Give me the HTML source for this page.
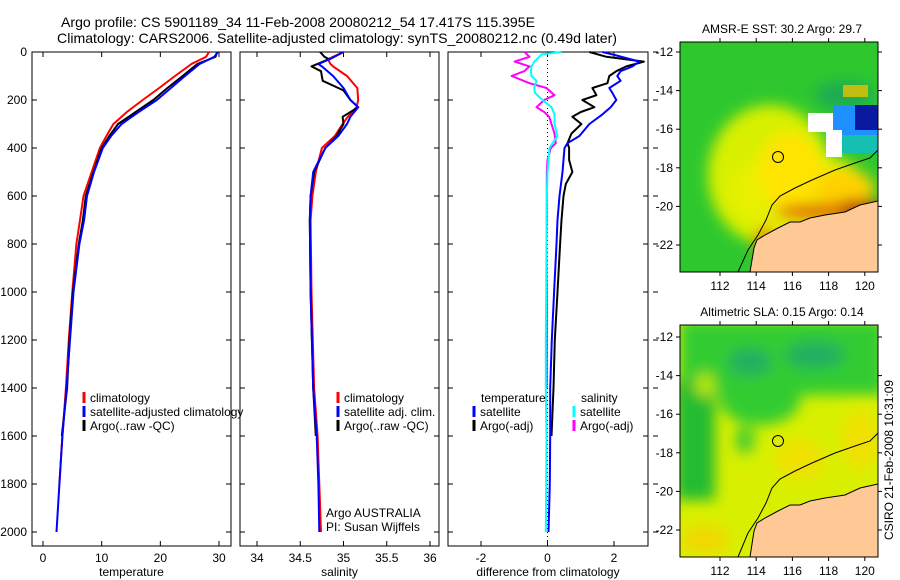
<!DOCTYPE html>
<html><head><meta charset="utf-8"><style>
body{margin:0;background:#fff;}
svg{display:block;font-family:"Liberation Sans",sans-serif;}
</style></head><body>
<svg id="fig" width="900" height="580" xmlns="http://www.w3.org/2000/svg">
<defs>
<filter id="bl" x="-20%" y="-20%" width="140%" height="140%"><feGaussianBlur stdDeviation="7"/></filter>
<clipPath id="c1"><rect x="680" y="42" width="198" height="230"/></clipPath>
<clipPath id="c2"><rect x="680" y="325" width="198" height="232"/></clipPath>
</defs>
<text x="61" y="27" font-size="14" textLength="474" lengthAdjust="spacingAndGlyphs">Argo profile: CS 5901189_34 11-Feb-2008 20080212_54 17.417S 115.395E</text>
<text x="57" y="43" font-size="14" textLength="560" lengthAdjust="spacingAndGlyphs">Climatology: CARS2006. Satellite-adjusted climatology: synTS_20080212.nc (0.49d later)</text>

<!-- SST map -->
<g clip-path="url(#c1)">
<rect x="680" y="42" width="198" height="230" fill="#2ec82e"/>
<g filter="url(#bl)">
<ellipse cx="770" cy="175" rx="62" ry="70" fill="#d8f000"/>
<ellipse cx="800" cy="192" rx="70" ry="40" fill="#e8f000"/>
<ellipse cx="790" cy="170" rx="32" ry="38" fill="#ffe400"/>
<ellipse cx="845" cy="188" rx="30" ry="18" fill="#ffd000"/>
<ellipse cx="825" cy="212" rx="50" ry="9" fill="#e07000"/>
<ellipse cx="860" cy="207" rx="22" ry="7" fill="#b00000"/>
<ellipse cx="765" cy="242" rx="10" ry="15" fill="#e08000"/>
<ellipse cx="845" cy="95" rx="30" ry="14" fill="#1aaa55"/>
</g>
<rect x="843" y="85" width="25" height="12" fill="#e8c000" opacity="0.8"/>
<rect x="833" y="105" width="45" height="45" fill="#1e90ff"/>
<rect x="855" y="105" width="23" height="25" fill="#0a1aa0"/>
<rect x="840" y="135" width="38" height="18" fill="#16c0b0"/>
<path d="M808,113 L833,113 L833,130 L842,130 L842,157 L826,157 L826,132 L808,132Z" fill="#fff"/>
<path d="M878,201 L860,205 L845,212 L825,215 L810,218 L800,222 L790,222 L778,228 L765,235 L757,240 L754,248 L750,272 L878,272Z" fill="#fec994"/>
<path d="M878,150 L870,158 L855,163 L835,170 L812,180 L795,188 L780,196 L772,205 L766,220 L758,235 L748,250 L738,272" fill="none" stroke="#000" stroke-width="1"/>
<path d="M878,201 L860,205 L845,212 L825,215 L810,218 L800,222 L790,222 L778,228 L765,235 L757,240 L754,248 L750,272" fill="none" stroke="#000" stroke-width="1"/>
<circle cx="778" cy="157" r="5.5" fill="none" stroke="#000" stroke-width="1"/>
</g>
<text x="782" y="33" font-size="12" text-anchor="middle">AMSR-E SST: 30.2 Argo: 29.7</text>

<!-- SLA map -->
<g clip-path="url(#c2)">
<rect x="680" y="325" width="198" height="232" fill="#d8f000"/>
<g filter="url(#bl)">
<rect x="680" y="320" width="205" height="75" fill="#33cc33"/>
<ellipse cx="760" cy="400" rx="40" ry="25" fill="#33cc33"/>
<rect x="675" y="380" width="40" height="120" fill="#22bb33"/>
<ellipse cx="815" cy="355" rx="30" ry="14" fill="#20b060"/>
<ellipse cx="750" cy="362" rx="22" ry="14" fill="#20b060"/>
<ellipse cx="705" cy="385" rx="10" ry="12" fill="#b8e800"/>
<ellipse cx="800" cy="460" rx="25" ry="20" fill="#f0e000"/>
<ellipse cx="705" cy="540" rx="25" ry="15" fill="#f0d800"/>
<ellipse cx="745" cy="440" rx="10" ry="14" fill="#44cc33"/>
<ellipse cx="860" cy="440" rx="18" ry="30" fill="#f0e000"/>
</g>
<path d="M878,484 L860,488 L845,495 L825,498 L810,501 L800,505 L790,505 L778,511 L765,518 L757,523 L754,531 L750,557 L878,557Z" fill="#fec994"/>
<path d="M878,433 L870,441 L855,446 L835,453 L812,463 L795,471 L780,479 L772,488 L766,503 L758,518 L748,533 L738,557" fill="none" stroke="#000" stroke-width="1"/>
<path d="M878,484 L860,488 L845,495 L825,498 L810,501 L800,505 L790,505 L778,511 L765,518 L757,523 L754,531 L750,557" fill="none" stroke="#000" stroke-width="1"/>
<circle cx="778" cy="441" r="5.5" fill="none" stroke="#000" stroke-width="1"/>
</g>
<text x="782" y="316" font-size="12" text-anchor="middle">Altimetric SLA: 0.15 Argo: 0.14</text>
<text transform="translate(893,460) rotate(-90)" font-size="12" text-anchor="middle">CSIRO 21-Feb-2008 10:31:09</text>

<g id="plots"></g>
</svg>
<script>
// ---- data ----
const tDepth   = [0,20,50,100,150,200,250,300,350,400,500,600,700,800,1000,1200,1400,1600,1800,2000];
const tClim    = [28.3,27.8,25.3,22.5,19.8,17.0,14.3,12.0,10.8,9.7,8.3,6.9,6.3,5.7,5.0,4.4,3.9,3.3,2.8,2.5];
const tSat     = [29.8,29.2,26.7,24.2,21.8,19.4,16.3,13.4,11.6,10.2,8.7,7.5,7.0,6.2,5.2,4.6,4.0,3.3,2.8,2.3];
const tArgoDepth = [0,20,50,100,150,200,250,300,350,400,500,600,700,800,1000,1200,1400,1600];
const tArgo    = [29.7,29.4,26.3,23.8,21.2,18.8,15.8,12.8,11.3,10.0,8.6,7.3,6.8,6.1,5.1,4.5,4.1,3.2];
const sDepth   = [0,30,50,60,100,150,200,230,270,300,350,400,500,600,700,1000,1400,1600,1800,2000];
const sClim    = [35.0,34.82,34.85,34.88,35.04,35.16,35.17,35.15,35.05,34.99,34.9,34.75,34.68,34.64,34.62,34.63,34.66,34.7,34.72,34.74];
const sSat     = [35.0,34.84,34.71,34.75,34.88,35.0,35.08,35.17,35.08,35.04,34.94,34.79,34.65,34.62,34.61,34.62,34.65,34.69,34.71,34.72];
const sArgoDepth = [0,20,30,60,80,120,160,200,230,270,300,350,400,500,600,700,1000,1400,1600];
const sArgo    = [34.73,34.78,34.83,34.63,34.74,34.76,35.0,35.08,35.17,34.99,35.0,34.92,34.79,34.66,34.62,34.61,34.62,34.65,34.68];
const dDepth   = [0,10,40,60,80,100,120,150,170,200,230,260,300,350,380,400,500,600,700,800,1000,1200,1400,1600,1800,2000];
const dTempSat = [1.65,1.95,2.76,2.55,2.2,2.1,2.2,1.86,1.95,2.07,1.9,1.65,1.26,0.96,0.6,0.51,0.45,0.36,0.3,0.27,0.2,0.13,0.08,0.08,0.07,0.03];
const dSalSat  = [0.42,-0.18,-0.39,-0.48,-0.5,-0.48,-0.33,-0.4,-0.38,-0.15,0.12,0.21,0.21,0.3,0.15,0.06,0,-0.02,-0.03,-0.03,-0.04,-0.05,-0.05,-0.03,-0.04,-0.05];
const dArgoDepth = [0,20,40,60,80,100,130,150,180,200,230,250,270,300,340,380,400,450,500,550,600,700,800,1000,1200,1400,1600];
const dTempArgo  = [1.26,1.77,2.9,2.37,2.07,1.86,1.8,1.35,1.47,1.05,1.41,1.0,0.75,1.02,0.72,0.6,0.65,0.65,0.75,0.55,0.48,0.42,0.38,0.3,0.22,0.18,0.12];
const dSalArgo   = [-0.69,-0.54,-0.99,-0.54,-0.7,-1.08,-0.54,-0.03,0.21,-0.1,-0.33,-0.1,0.05,0.12,0.21,0.25,0.1,0,-0.02,-0.02,-0.02,-0.02,-0.03,-0.02,-0.02,-0.02,0];
const depthTicks = [0,200,400,600,800,1000,1200,1400,1600,1800,2000];
const tTicks = [0,10,20,30];
const sTicks = [34,34.5,35,35.5,36];
const sTickLabels = ["34","34.5","35","35.5","36"];
const dTicks = [-2,0,2];
const mapLonTicks = [112,114,116,118,120];
const mapLatTicks = [-12,-14,-16,-18,-20,-22];

const NS = "http://www.w3.org/2000/svg";
const root = document.getElementById('plots');
function el(tag, attrs, parent){const e=document.createElementNS(NS,tag);for(const k in attrs)e.setAttribute(k,attrs[k]);(parent||root).appendChild(e);return e;}
const Y0=52, PXM=0.24;
function yD(d){return Y0+d*PXM;}

function panel(name,x0,x1,sx,ticks,labels,title){
  const g=el('g',{});
  
  
  const r=el('rect',{x:x0,y:52,width:x1-x0,height:494,fill:'none',stroke:'#000','stroke-width':1},g);
  
  
  ticks.forEach((t,i)=>{
    const x=sx(t);
    el('line',{x1:x,x2:x,y1:546,y2:541,stroke:'#000'},g);
    el('line',{x1:x,x2:x,y1:52,y2:57,stroke:'#000'},g);
    const tx=el('text',{x:x,y:562,'font-size':12,'text-anchor':'middle'},g);
    tx.textContent=labels[i];
    
    
  });
  depthTicks.forEach(d=>{
    el('line',{x1:x0,x2:x0+5,y1:yD(d),y2:yD(d),stroke:'#000'},g);
    el('line',{x1:x1,x2:x1-5,y1:yD(d),y2:yD(d),stroke:'#000'},g);
  });
  const tt=el('text',{x:(x0+x1)/2,y:576,'font-size':12,'text-anchor':'middle'},g);
  tt.textContent=title;
  
  
  return g;
}
function line(g,name,depths,vals,sx,color,w){
  const pts=depths.map((d,i)=>sx(vals[i]).toFixed(1)+','+yD(d).toFixed(1)).join(' ');
  const p=el('polyline',{points:pts,fill:'none',stroke:color,'stroke-width':w||2,'stroke-linejoin':'round'},g);
  
  
}
function legend(g,x,y,color,text,name){
  el('line',{x1:x,x2:x,y1:y-10,y2:y+1,stroke:color,'stroke-width':3},g);
  const t=el('text',{x:x+6,y:y,'font-size':12},g);
  t.textContent=text;
  
  
}

depthTicks.forEach(d=>{
  const t=el('text',{x:27,y:yD(d)+4,'font-size':12,'text-anchor':'end'});
  t.textContent=String(d);
  
  
  el('line',{x1:653,x2:658,y1:yD(d),y2:yD(d),stroke:'#000'});
});

const sxT=v=>43+v*5.867;
const g1=panel('temperature-panel',32,231,sxT,tTicks,tTicks.map(String),'temperature');
line(g1,'temperature-climatology',tDepth.slice(0,19),tClim.slice(0,19),sxT,'#f00');
line(g1,'temperature-argo',tArgoDepth,tArgo,sxT,'#000');
line(g1,'temperature-satellite',tDepth,tSat,sxT,'#00f');
legend(g1,84,402,'#f00','climatology','legend-climatology');
legend(g1,84,416,'#00f','satellite-adjusted climatology','legend-satellite');
legend(g1,84,430,'#000','Argo(..raw -QC)','legend-argo');

const sxS=v=>257+(v-34)*86.5;
const g2=panel('salinity-panel',240,439,sxS,sTicks,sTickLabels,'salinity');
line(g2,'salinity-climatology',sDepth,sClim,sxS,'#f00');
line(g2,'salinity-argo',sArgoDepth,sArgo,sxS,'#000');
line(g2,'salinity-satellite',sDepth,sSat,sxS,'#00f');
legend(g2,338,402,'#f00','climatology','legend-s-climatology');
legend(g2,338,416,'#00f','satellite adj. clim.','legend-s-satellite');
legend(g2,338,430,'#000','Argo(..raw -QC)','legend-s-argo');
const a1=el('text',{x:326,y:517,'font-size':12},g2);a1.textContent='Argo AUSTRALIA';


const a2=el('text',{x:326,y:531,'font-size':12},g2);a2.textContent='PI: Susan Wijffels';



const sxD=v=>547.5+v*33.25;
const g3=panel('difference-panel',448,648,sxD,dTicks,dTicks.map(String),'difference from climatology');
el('line',{x1:sxD(0),x2:sxD(0),y1:52,y2:546,stroke:'#000','stroke-dasharray':'1,3'},g3);
line(g3,'diff-salinity-argo',dArgoDepth.slice(0,26),dSalArgo.slice(0,26),sxD,'#f0f');
line(g3,'diff-salinity-satellite',dDepth,dSalSat,sxD,'#0ff');
line(g3,'diff-temperature-argo',dArgoDepth,dTempArgo,sxD,'#000');
line(g3,'diff-temperature-satellite',dDepth,dTempSat,sxD,'#00f');
const lt=el('text',{x:481,y:402,'font-size':12},g3);lt.textContent='temperature';


const ls=el('text',{x:581,y:402,'font-size':12},g3);ls.textContent='salinity';


legend(g3,474,416,'#00f','satellite','legend-d-temp-satellite');
legend(g3,474,430,'#000','Argo(-adj)','legend-d-temp-argo');
legend(g3,574,416,'#0ff','satellite','legend-d-sal-satellite');
legend(g3,574,430,'#f0f','Argo(-adj)','legend-d-sal-argo');

function mapAxes(name,x0,y0,h,lat0){
  const g=el('g',{});
  
  
  el('rect',{x:x0,y:y0,width:198,height:h,fill:'none',stroke:'#000'},g);
  mapLonTicks.forEach(lon=>{
    const x=720+(lon-112)*18.1;
    el('line',{x1:x,x2:x,y1:y0,y2:y0-4,stroke:'#000'},g);
    el('line',{x1:x,x2:x,y1:y0+h,y2:y0+h+4,stroke:'#000'},g);
    const t=el('text',{x:x,y:y0+h+18,'font-size':12,'text-anchor':'middle'},g);
    t.textContent=String(lon);
    
    
  });
  mapLatTicks.forEach(lat=>{
    const y=lat0+(-lat-12)*19.3;
    el('line',{x1:x0,x2:x0-4,y1:y,y2:y,stroke:'#000'},g);
    el('line',{x1:x0+198,x2:x0+202,y1:y,y2:y,stroke:'#000'},g);
    const t=el('text',{x:x0-7,y:y+4,'font-size':12,'text-anchor':'end'},g);
    t.textContent=String(lat);
    
    
  });
}
mapAxes('sst-map-axes',680,42,230,52);
mapAxes('sla-map-axes',680,325,232,337);
</script>
</body></html>
